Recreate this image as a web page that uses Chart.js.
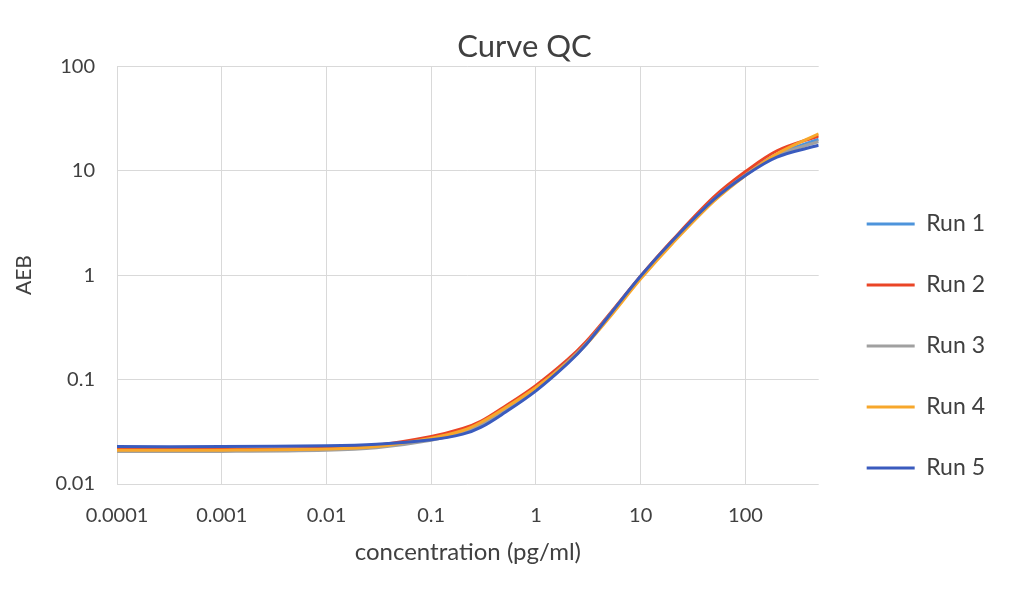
<!DOCTYPE html>
<html>
<head>
<meta charset="utf-8">
<script src="https://cdn.jsdelivr.net/npm/chart.js@4.4.1/dist/chart.umd.min.js"></script>
<style>
  html, body { margin: 0; padding: 0; background: #ffffff; }
  #wrap { width: 1028px; height: 602px; position: relative; }
</style>
</head>
<body>
<div id="wrap"><canvas id="c"></canvas></div>
<script>
// ---- data ----
const concentrations = [0.0001, 0.001, 0.01, 0.03, 0.1, 0.2, 0.3, 0.5, 1, 2, 3, 5, 10, 20, 50, 100, 200, 500];
const run1 = [0.0213, 0.0213, 0.0218, 0.0228, 0.0268, 0.0315, 0.037, 0.051, 0.083, 0.148, 0.22, 0.41, 0.97, 2.1, 5.3, 9.2, 14.3, 20];
const run2 = [0.0215, 0.0215, 0.0220, 0.0235, 0.0285, 0.034, 0.040, 0.055, 0.088, 0.155, 0.23, 0.42, 0.98, 2.15, 5.6, 9.8, 15.5, 21.5];
const run3 = [0.0205, 0.0205, 0.0210, 0.0222, 0.0262, 0.031, 0.037, 0.051, 0.083, 0.148, 0.22, 0.41, 0.96, 2.08, 5.3, 9.1, 14.0, 19];
const run4 = [0.0211, 0.0211, 0.0216, 0.0228, 0.0275, 0.0325, 0.039, 0.053, 0.084, 0.145, 0.215, 0.39, 0.92, 2.0, 5.1, 9.0, 14.5, 22.5];
const run5 = [0.0228, 0.0228, 0.0232, 0.0240, 0.0265, 0.030, 0.035, 0.048, 0.078, 0.142, 0.215, 0.41, 0.98, 2.12, 5.3, 9.0, 13.5, 17.5];
const seriesNames = ['Run 1', 'Run 2', 'Run 3', 'Run 4', 'Run 5'];
const seriesValues = [run1, run2, run3, run4, run5];
const seriesColors = ['#4D94DB', '#EA4526', '#A0A0A0', '#F7A72B', '#3A5BBE'];
const xTicks = [0.0001, 0.001, 0.01, 0.1, 1, 10, 100];
const xTickLabels = ['0.0001', '0.001', '0.01', '0.1', '1', '10', '100'];
const yTicks = [0.01, 0.1, 1, 10, 100];
const yTickLabels = ['0.01', '0.1', '1', '10', '100'];
const xMin = 0.0001, xMax = 500, yMin = 0.01, yMax = 100;

const FONT = 'Lato, "Open Sans", "Noto Sans", sans-serif';
const TEXT = '#404040';
const GRID = '#d9d9d9';

const datasets = seriesNames.map((name, i) => ({
  label: name,
  data: concentrations.map((x, j) => ({ x: x, y: seriesValues[i][j] })),
  borderColor: seriesColors[i],
  backgroundColor: seriesColors[i],
  borderWidth: 3,
  pointRadius: 0,
  pointHoverRadius: 0,
  tension: 0.35,
  fill: false,
  order: seriesNames.length - i
}));

// nudges the title and the right-hand legend horizontally after layout
const boxShift = {
  id: 'boxShift',
  afterLayout(chart, args, opts) {
    const lg = chart.legend;
    if (lg) { lg.left += opts.legendDx; lg.right += opts.legendDx; }
    const tb = chart.titleBlock;
    if (tb) { tb.left += opts.titleDx; tb.right += opts.titleDx; }
  }
};

new Chart(document.getElementById('c'), {
  type: 'line',
  data: { datasets: datasets },
  plugins: [boxShift],
  options: {
    responsive: true,
    maintainAspectRatio: false,
    animation: false,
    events: [],
    layout: { padding: { left: 22, right: 43, top: 0, bottom: 0 } },
    plugins: {
      boxShift: { legendDx: 10, titleDx: 21 },
      tooltip: { enabled: false },
      title: {
        display: true,
        text: 'Curve QC',
        color: TEXT,
        font: { family: FONT, size: 31, weight: 'normal' },
        padding: { top: 28, bottom: 1 }
      },
      legend: {
        position: 'right',
        align: 'center',
        title: { display: true, text: ' ', font: { size: 10 }, padding: { top: 39, bottom: 39 } },
        labels: {
          font: { family: FONT, size: 23 },
          color: TEXT,
          boxWidth: 48,
          boxHeight: 3,
          padding: 38,
          sort: (a, b) => a.datasetIndex - b.datasetIndex,
          generateLabels: (chart) => Chart.defaults.plugins.legend.labels.generateLabels(chart).map(l => Object.assign(l, { lineWidth: 0 }))
        }
      }
    },
    scales: {
      x: {
        type: 'logarithmic',
        min: xMin,
        max: xMax,
        afterBuildTicks: (s) => { s.ticks = xTicks.map(v => ({ value: v })); },
        afterFit: (s) => { s.height = 118; },
        ticks: {
          autoSkip: false,
          maxRotation: 0,
          padding: 20,
          color: TEXT,
          font: { family: FONT, size: 20 },
          callback: (v, i) => xTickLabels[i]
        },
        grid: { color: GRID, lineWidth: 1, drawTicks: false },
        border: { display: false },
        title: {
          display: true,
          text: 'concentration (pg/ml)',
          color: TEXT,
          font: { family: FONT, size: 24 },
          padding: { top: 0, bottom: 35 }
        }
      },
      y: {
        type: 'logarithmic',
        min: yMin,
        max: yMax,
        afterBuildTicks: (s) => { s.ticks = yTicks.map(v => ({ value: v })); },
        afterFit: (s) => { s.width = 95; },
        ticks: {
          autoSkip: false,
          padding: 22,
          color: TEXT,
          font: { family: FONT, size: 20 },
          callback: (v, i) => yTickLabels[i]
        },
        grid: { color: GRID, lineWidth: 1, drawTicks: false },
        border: { display: false },
        title: {
          display: true,
          text: 'AEB',
          color: TEXT,
          font: { family: FONT, size: 21 },
          padding: { top: -10, bottom: 0 }
        }
      }
    }
  }
});
</script>
</body>
</html>
